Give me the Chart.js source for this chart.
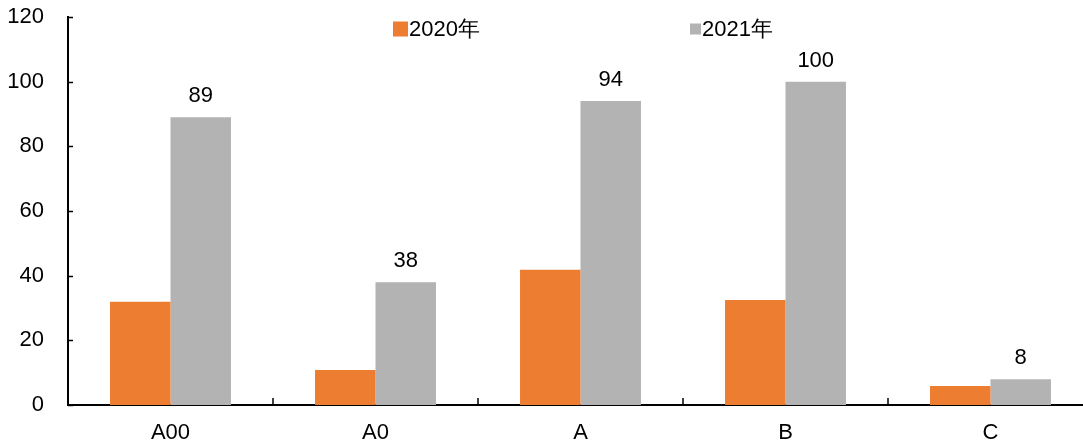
<!DOCTYPE html>
<html>
<head>
<meta charset="utf-8">
<script src="https://cdn.jsdelivr.net/npm/chart.js@4"></script>
<style>
  body { margin: 0; background: #fff; overflow: hidden; }
  #wrap { width: 1093px; height: 441px; position: relative; }
</style>
</head>
<body>
<div id="wrap"><canvas id="myChart"></canvas></div>
<script>
// 分類與數據
var categories = ['A00', 'A0', 'A', 'B', 'C'];
var seriesNames = ['2020年', '2021年'];
var values2020 = [31.9, 10.8, 41.8, 32.5, 5.9];
var values2021 = [89, 38, 94, 100, 8];
var yTicks = [0, 20, 40, 60, 80, 100, 120];

var colors = ['#ED7D31', '#B3B3B3'];
var fontFamily = '"Liberation Sans", Arial, sans-serif';
var fontSize = 22;

// 內向刻度 + 數值標籤 + 圖例
var extras = {
  id: 'extras',
  afterDraw: function(chart) {
    var ctx = chart.ctx;
    var x = chart.scales.x, y = chart.scales.y;
    var area = chart.chartArea;
    ctx.save();
    ctx.strokeStyle = '#000';
    ctx.lineWidth = 1.5;
    // y 軸刻度
    yTicks.forEach(function(v) {
      var py = Math.round(y.getPixelForValue(v)) + 0.5;
      ctx.beginPath();
      ctx.moveTo(area.left, py);
      ctx.lineTo(area.left + 5, py);
      ctx.stroke();
    });
    // x 軸分類邊界刻度
    for (var i = 1; i < categories.length; i++) {
      var px = (x.getPixelForValue(i - 1) + x.getPixelForValue(i)) / 2;
      ctx.beginPath();
      ctx.moveTo(px, area.bottom);
      ctx.lineTo(px, area.bottom - 7);
      ctx.stroke();
    }
    // 2021 數值標籤
    ctx.fillStyle = '#000';
    ctx.font = fontSize + 'px ' + fontFamily;
    ctx.textAlign = 'center';
    ctx.textBaseline = 'alphabetic';
    chart.getDatasetMeta(1).data.forEach(function(bar, idx) {
      ctx.fillText(String(values2021[idx]), bar.x, bar.y - 15);
    });
    // 圖例
    var legendPos = [393, 690];
    var boxSize = [15, 11];
    ctx.textAlign = 'left';
    ctx.textBaseline = 'middle';
    seriesNames.forEach(function(name, k) {
      ctx.fillStyle = colors[k];
      ctx.fillRect(legendPos[k], 29 - boxSize[k] / 2, boxSize[k], boxSize[k]);
      ctx.fillStyle = '#000';
      ctx.fillText(name, legendPos[k] + boxSize[k] + 1, 30);
    });
    ctx.restore();
  }
};

new Chart(document.getElementById('myChart'), {
  type: 'bar',
  data: {
    labels: categories,
    datasets: [
      {
        label: seriesNames[0],
        backgroundColor: colors[0],
        data: values2020,
        categoryPercentage: 0.59,
        barPercentage: 1
      },
      {
        label: seriesNames[1],
        backgroundColor: colors[1],
        data: values2021,
        categoryPercentage: 0.59,
        barPercentage: 1
      }
    ]
  },
  options: {
    responsive: true,
    maintainAspectRatio: false,
    animation: false,
    layout: { padding: 0 },
    plugins: {
      legend: { display: false },
      tooltip: { enabled: false }
    },
    scales: {
      x: {
        afterFit: function(scale) { scale.height = 36; },
        grid: { display: false, drawTicks: false },
        border: { display: true, color: '#000', width: 2 },
        ticks: { color: '#000', font: { family: fontFamily, size: fontSize }, padding: 15 }
      },
      y: {
        min: 0,
        max: 120,
        afterFit: function(scale) {
          scale.width = 68;
          scale.paddingTop = 17;
          scale.paddingBottom = 0;
        },
        afterBuildTicks: function(scale) {
          scale.ticks = yTicks.map(function(v) { return { value: v }; });
        },
        grid: { display: false, drawTicks: false },
        border: { display: true, color: '#000', width: 2 },
        ticks: { color: '#000', font: { family: fontFamily, size: fontSize }, padding: 24 }
      }
    }
  },
  plugins: [extras]
});
</script>
</body>
</html>
